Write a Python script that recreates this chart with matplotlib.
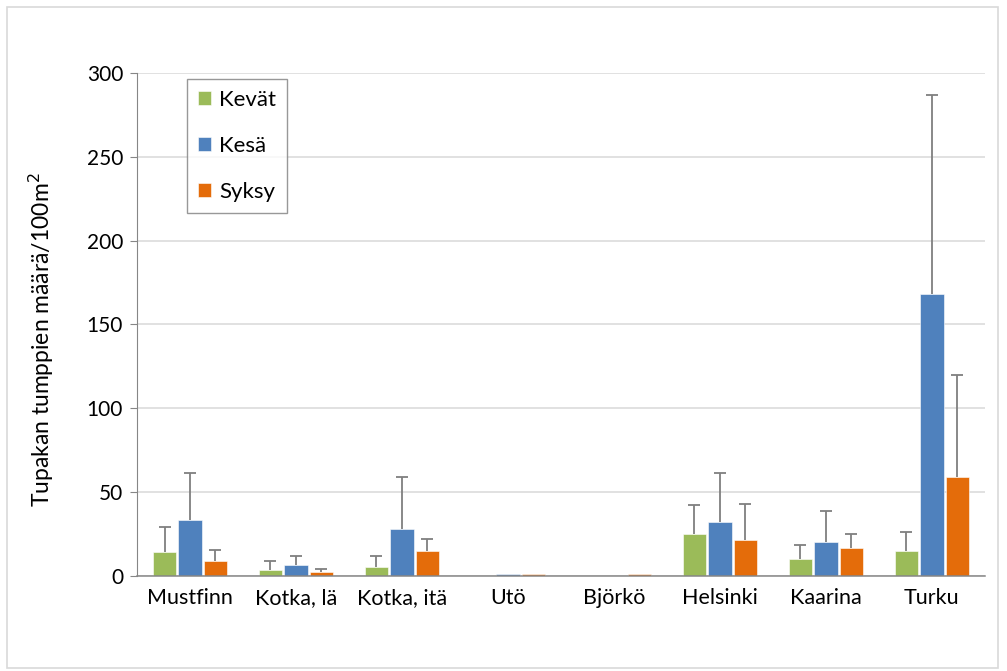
"""Tupakan tumpit havaintopaikoittain ja vuodenajoittain."""

import matplotlib.pyplot as plt
import numpy as np
from matplotlib.patches import Rectangle

sites = ["Mustfinn", "Kotka, lä", "Kotka, itä", "Utö", "Björkö",
         "Helsinki", "Kaarina", "Turku"]
seasons = ["Kevät", "Kesä", "Syksy"]

kevat = [14.5, 3.8, 5.2, 0.0, 0.0, 25.2, 10.0, 15.1]
kesa = [33.6, 6.7, 28.2, 1.0, 0.0, 32.0, 20.5, 168.0]
syksy = [9.1, 2.2, 15.1, 1.0, 1.0, 21.3, 16.9, 58.9]

# error bar tops (upper end of the whisker)
kevat_top = [29.4, 8.9, 11.9, 0.0, 0.0, 42.3, 18.7, 26.2]
kesa_top = [61.6, 11.9, 59.2, 1.0, 0.0, 61.6, 38.8, 286.8]
syksy_top = [15.7, 4.2, 21.9, 1.0, 1.0, 43.1, 25.0, 119.7]

colors = ["#9BBB59", "#4F81BD", "#E46C0A"]


def main():
    plt.rcParams["font.family"] = ["Lato", "DejaVu Sans"]
    fig = plt.figure(figsize=(10.07, 6.71), dpi=100)
    ax = fig.add_axes([0.136, 0.1416, 0.842, 0.7496])

    fig.patches.append(Rectangle((0.007, 0.005), 0.984, 0.984, transform=fig.transFigure,
                                 fill=False, edgecolor="#d9d9d9", linewidth=1.2))

    x = np.arange(len(sites))
    width = 0.22
    offset = 0.24
    series = [(kevat, kevat_top), (kesa, kesa_top), (syksy, syksy_top)]
    for i, (vals, tops) in enumerate(series):
        vals = np.array(vals)
        tops = np.array(tops)
        pos = x + (i - 1) * offset
        nz = vals > 0
        ax.bar(pos[nz], vals[nz], width, color=colors[i], edgecolor="white",
               linewidth=0.4, label=seasons[i], zorder=3)
        # upper whiskers only, Excel style
        mask = tops > vals
        ax.vlines(pos[mask], vals[mask], tops[mask], color="#7f7f7f",
                  linewidth=1.3, zorder=4)
        ax.plot(pos[mask], tops[mask], linestyle="none", marker="_",
                markersize=8, markeredgewidth=1.3, color="#7f7f7f", zorder=4)

    ax.set_xlim(-0.5, len(sites) - 0.5)
    ax.set_ylim(0, 300)
    ax.set_yticks(range(0, 301, 50))
    ax.set_xticks(x)
    ax.set_xticklabels(sites, fontsize=15.5)
    ax.tick_params(axis="x", length=0, pad=9)
    ax.tick_params(axis="y", labelsize=15, length=5, color="#868686", pad=5)
    ax.yaxis.grid(True, color="#d9d9d9", linewidth=1.1, zorder=0)
    ax.set_axisbelow(True)
    for s in ["top", "right"]:
        ax.spines[s].set_visible(False)
    ax.spines["left"].set_color("#868686")
    ax.spines["bottom"].set_color("#868686")
    ax.spines["bottom"].set_linewidth(1.1)
    ax.spines["bottom"].set_zorder(3.5)
    ax.set_ylabel("Tupakan tumppien määrä/100m$^2$", fontsize=16.5)
    ax.yaxis.set_label_coords(-0.095, 0.47)

    leg = ax.legend(loc="upper left", bbox_to_anchor=(0.059, 0.988), fontsize=16,
                    handlelength=0.6, handleheight=0.6, handletextpad=0.35,
                    labelspacing=1.17, borderpad=0.5, fancybox=False,
                    borderaxespad=0)
    leg.get_frame().set_edgecolor("#7f7f7f")
    leg.get_frame().set_linewidth(1.0)

    plt.savefig("out.png", dpi=100)


if __name__ == "__main__":
    main()
